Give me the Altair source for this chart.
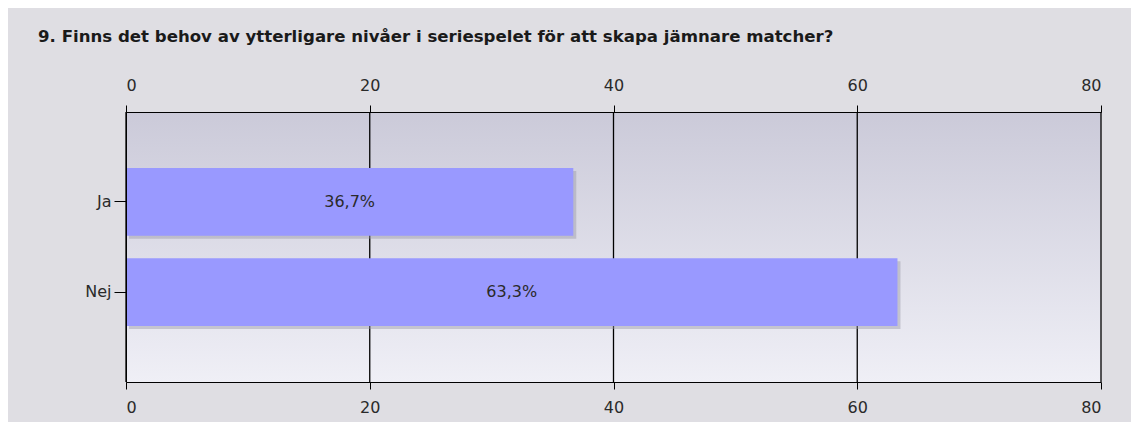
import altair as alt
import pandas as pd

categories = ["Ja", "Nej"]
values = [36.7, 63.3]
value_labels = ["36,7%", "63,3%"]
tick_values = [0, 20, 40, 60, 80]
title_text = "9. Finns det behov av ytterligare nivåer i seriespelet för att skapa jämnare matcher?"

bars_df = pd.DataFrame({"svar": categories, "procent": values, "etikett": value_labels})
ticks_df = pd.DataFrame({"t": tick_values})
frame_df = pd.DataFrame({"start": [tick_values[0]], "end": [tick_values[-1]]})

FONT = "DejaVu Sans"
LABEL_COLOR = "#2a2a2a"
xscale = alt.Scale(domain=[tick_values[0], tick_values[-1]], nice=False, zero=True)
yscale = alt.Scale(domain=categories, paddingInner=0.25, paddingOuter=0.62)

bottom_axis = alt.Axis(orient="bottom", values=tick_values, title=None, grid=False,
                       domainColor="black", tickColor="black", tickSize=7,
                       labelPadding=10, labelFontSize=16, labelFont=FONT,
                       labelColor=LABEL_COLOR, zindex=1, labelAngle=0)
top_axis = alt.Axis(orient="top", values=tick_values, title=None, grid=False,
                    domainColor="black", tickColor="black", tickSize=7,
                    labelPadding=12, labelFontSize=16, labelFont=FONT,
                    labelColor=LABEL_COLOR, zindex=1, labelAngle=0)
y_axis = alt.Axis(title=None, domainColor="black", tickColor="black",
                  tickSize=12, labelPadding=3, labelFontSize=16,
                  labelFont=FONT, labelColor=LABEL_COLOR, zindex=1)

background = alt.Chart(frame_df).mark_rect(
    color=alt.LinearGradient(
        gradient="linear",
        stops=[alt.GradientStop(color="#cbcad9", offset=0),
               alt.GradientStop(color="#efeff6", offset=1)],
        x1=0, x2=0, y1=0, y2=1,
    )
).encode(
    x=alt.X("start:Q", scale=xscale, axis=bottom_axis),
    x2="end:Q",
)

grid = alt.Chart(ticks_df).mark_rule(color="black", strokeWidth=1.3).encode(
    x=alt.X("t:Q", scale=xscale, axis=top_axis),
)

shadow = alt.Chart(bars_df).mark_bar(
    color="#9a9aa6", opacity=0.45, xOffset=3, yOffset=3
).encode(
    x=alt.X("procent:Q", scale=xscale, axis=None),
    y=alt.Y("svar:N", scale=yscale, sort=categories, axis=y_axis),
)

bars = alt.Chart(bars_df).mark_bar(color="#9999ff").encode(
    x=alt.X("procent:Q", scale=xscale, axis=None),
    y=alt.Y("svar:N", scale=yscale, sort=categories, axis=y_axis),
)

labels = alt.Chart(bars_df).transform_calculate(
    mid="datum.procent / 2"
).mark_text(font=FONT, fontSize=16, color=LABEL_COLOR).encode(
    x=alt.X("mid:Q", scale=xscale, axis=None),
    y=alt.Y("svar:N", scale=yscale, sort=categories, axis=y_axis),
    text="etikett:N",
)

chart = alt.layer(background, grid, shadow, bars, labels).resolve_axis(
    x="independent"
).resolve_scale(x="shared").properties(
    width=975,
    height=270,
    title=alt.TitleParams(
        text=title_text, anchor="start", frame="group", font=FONT,
        fontSize=16.6, fontWeight="bold", color="#1a1a1a", offset=31, dx=-88,
    ),
    autosize=alt.AutoSizeParams(type="none"),
    padding={"left": 118, "top": 104, "right": 30, "bottom": 40},
).configure(background="#dfdee3").configure_view(stroke=None)

chart.save("out.html", embed_options={"renderer": "svg", "actions": False})
